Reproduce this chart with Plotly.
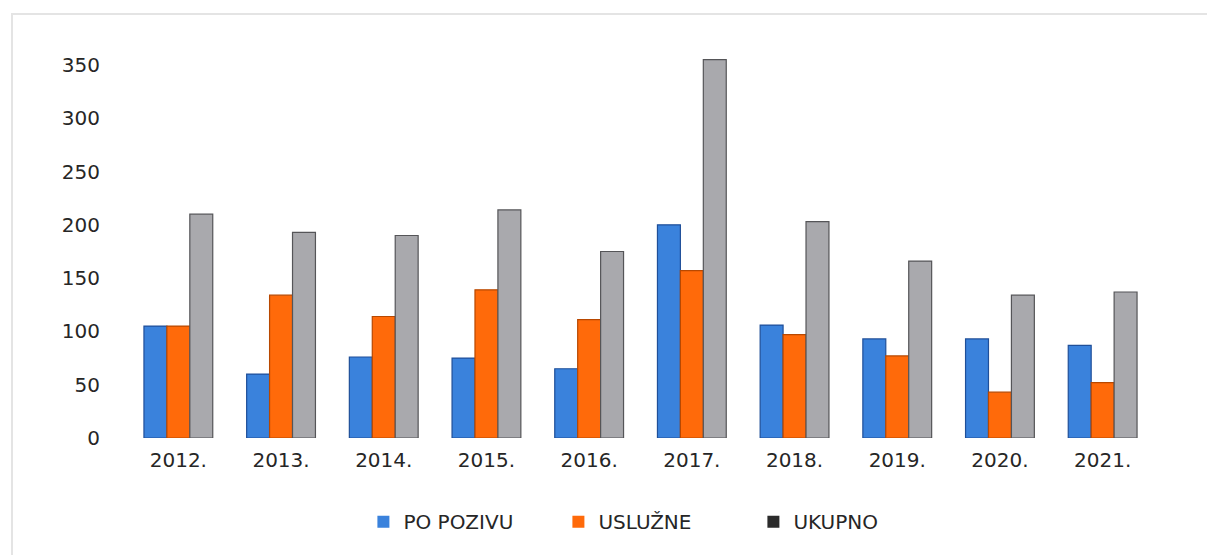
import plotly.graph_objects as go

years = ["2012.", "2013.", "2014.", "2015.", "2016.", "2017.", "2018.", "2019.", "2020.", "2021."]
po_pozivu = [105, 60, 76, 75, 65, 200, 106, 93, 93, 87]
usluzne = [105, 134, 114, 139, 111, 157, 97, 77, 43, 52]
ukupno = [210, 193, 190, 214, 175, 355, 203, 166, 134, 137]
y_ticks = [0, 50, 100, 150, 200, 250, 300, 350]

series = [
    ("PO POZIVU", po_pozivu, "#3a82dc", "#1f4f99", "#3a82dc"),
    ("USLUŽNE", usluzne, "#ff6a0a", "#b84800", "#ff6a0a"),
    ("UKUPNO", ukupno, "#a9a9ad", "#555558", "#2b2b2b"),
]

fig = go.Figure()
for name, vals, fill, edge, legend_col in series:
    fig.add_trace(go.Bar(
        x=years, y=vals, name=name, showlegend=False,
        marker=dict(color=fill, line=dict(color=edge, width=1.2)),
    ))
# legend swatches (the UKUPNO swatch is dark in the original)
for name, vals, fill, edge, legend_col in series:
    fig.add_trace(go.Scatter(
        x=[None], y=[None], mode="markers", name=name,
        marker=dict(symbol="square", size=10, color=legend_col),
    ))

fig.update_layout(
    width=1215, height=555,
    margin=dict(l=119, r=69, t=41, b=125),
    paper_bgcolor="white",
    plot_bgcolor="white",
    font=dict(family="DejaVu Sans, Verdana, sans-serif", size=20, color="#262626"),
    barmode="group",
    bargap=0.33,
    bargroupgap=0,
    showlegend=True,
    legend=dict(
        orientation="h", x=0.515, xanchor="center", y=-0.215, yanchor="middle",
        font=dict(size=20), itemsizing="constant", entrywidth=150,
    ),
    shapes=[dict(
        type="rect", xref="paper", yref="paper",
        x0=-0.112, x1=1.06, y0=-0.31, y1=1.09,
        line=dict(color="#e4e4e4", width=2),
    )],
)
fig.update_xaxes(showgrid=False, showline=False, ticks="", ticklabelstandoff=8)
fig.update_yaxes(
    range=[0, 365], tickvals=y_ticks, showgrid=False, zeroline=False,
    showline=False, ticks="", ticklabelstandoff=26,
)

fig.write_html("out.html")
